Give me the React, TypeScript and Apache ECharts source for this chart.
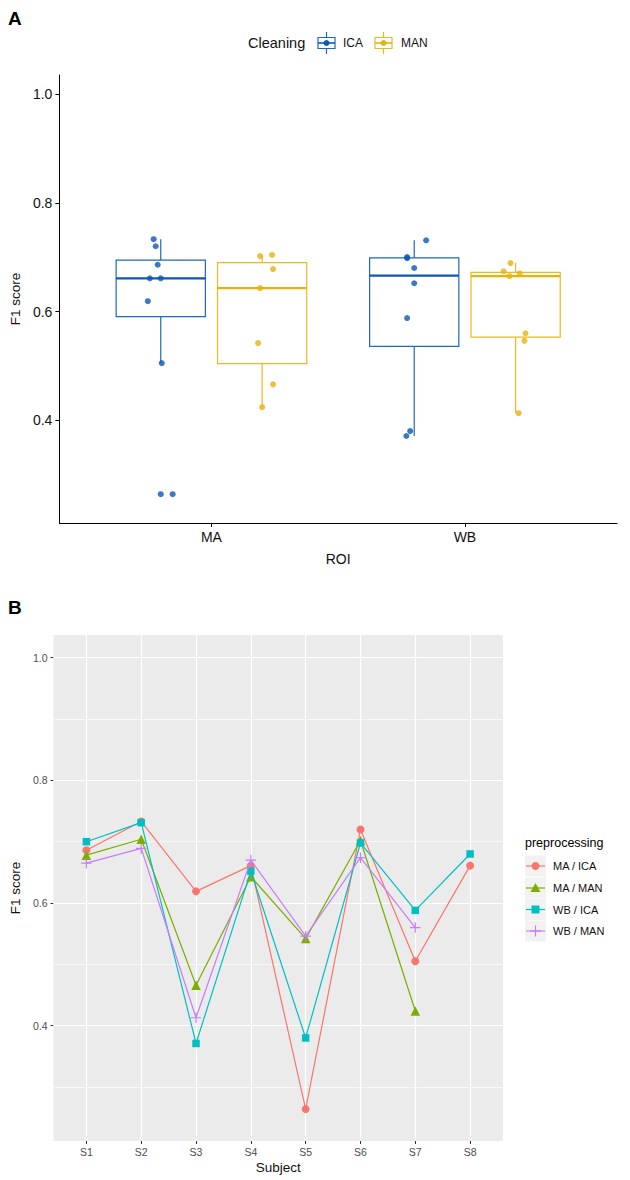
import React, { useEffect, useRef } from "react";
import * as echarts from "echarts";

// ---------- data ----------
const subjects = ["S1", "S2", "S3", "S4", "S5", "S6", "S7", "S8"];
const groups = ["MA / ICA", "MA / MAN", "WB / ICA", "WB / MAN"];
const rois = ["MA", "WB"];
const cleanings = ["ICA", "MAN"];
const yTicks = [0.4, 0.6, 0.8, 1.0];
const yMinor = [0.3, 0.5, 0.7, 0.9];

const maIca: (number | null)[] = [0.686, 0.733, 0.619, 0.661, 0.264, 0.72, 0.505, 0.661];
const maMan: (number | null)[] = [0.678, 0.704, 0.466, 0.643, 0.542, 0.702, 0.424, null];
const wbIca: (number | null)[] = [0.7, 0.731, 0.371, 0.652, 0.38, 0.698, 0.588, 0.68];
const wbMan: (number | null)[] = [0.665, 0.689, 0.413, 0.67, 0.546, 0.674, 0.56, null];

// horizontal jitter of the points in panel A (axis units)
const jitMaIca = [-0.012, -0.028, -0.051, -0.043, 0.047, -0.02, 0.004, 0.0];
const jitMaMan = [0.043, 0.039, 0.043, -0.008, -0.016, -0.008, 0.0, 0];
const jitWbIca = [-0.028, 0.047, -0.031, 0.0, -0.016, -0.028, -0.028, 0.0];
const jitWbMan = [-0.024, -0.02, 0.012, 0.016, 0.035, -0.047, 0.039, 0];

// ---------- helpers ----------
const FONT = "'Liberation Sans', Arial, Helvetica, sans-serif";
const BLUE_LINE = "#2167BA";
const BLUE_PT = "#0B58B6";
const YEL_LINE = "#EBB920";
const YEL_PT = "#E8B20C";
const ggCols = ["#F8766D", "#7CAE00", "#00BFC4", "#C77CFF"];
const PLUS = "path://M4.45,0H5.55V4.45H10V5.55H5.55V10H4.45V5.55H0V4.45H4.45Z";

function quantile(s: number[], p: number) {
  const h = (s.length - 1) * p;
  const lo = Math.floor(h);
  const hi = Math.ceil(h);
  return s[lo] + (h - lo) * (s[hi] - s[lo]);
}
function boxStats(vals: (number | null)[]) {
  const s = (vals.filter((v) => v != null) as number[]).slice().sort((a, b) => a - b);
  const q1 = quantile(s, 0.25);
  const med = quantile(s, 0.5);
  const q3 = quantile(s, 0.75);
  const iqr = q3 - q1;
  const lo = q1 - 1.5 * iqr;
  const hi = q3 + 1.5 * iqr;
  const inside = s.filter((v) => v >= lo && v <= hi);
  return {
    min: inside[0],
    q1,
    med,
    q3,
    max: inside[inside.length - 1],
    outliers: s.filter((v) => v < lo || v > hi),
  };
}

const dataA: Record<string, (number | null)[][]> = {
  ICA: [maIca, wbIca],
  MAN: [maMan, wbMan],
};
const jitA: Record<string, number[][]> = {
  ICA: [jitMaIca, jitWbIca],
  MAN: [jitMaMan, jitWbMan],
};
const seriesB = [maIca, maMan, wbIca, wbMan];
const symbolsB = ["circle", "triangle", "rect", PLUS];
const sizesB = [8, 9.5, 7.5, 10.5];

function buildOption() {
  const series: any[] = [];
  const graphics: any[] = [];

  // ---------- Panel A ----------
  cleanings.forEach((cl, ci) => {
    const lineCol = ci === 0 ? BLUE_LINE : YEL_LINE;
    const ptCol = ci === 0 ? BLUE_PT : YEL_PT;
    const off = ci === 0 ? -0.2 : 0.2;
    const boxes: number[][] = [];
    const outl: number[][] = [];
    const pts: number[][] = [];
    rois.forEach((_, ri) => {
      const vals = dataA[cl][ri];
      const st = boxStats(vals);
      const xc = ri + 1 + off;
      boxes.push([xc, st.min, st.q1, st.med, st.q3, st.max]);
      st.outliers.forEach((o) => outl.push([xc, o]));
      vals.forEach((v, k) => {
        if (v != null) pts.push([xc + jitA[cl][ri][k], v]);
      });
    });
    series.push({
      type: "custom",
      name: cl,
      xAxisIndex: 0,
      yAxisIndex: 0,
      data: boxes,
      z: 2,
      renderItem: (params: any, api: any) => {
        const x = api.value(0);
        const half = 0.176;
        const pMin = api.coord([x, api.value(1)]);
        const pQ1 = api.coord([x, api.value(2)]);
        const pMed = api.coord([x, api.value(3)]);
        const pQ3 = api.coord([x, api.value(4)]);
        const pMax = api.coord([x, api.value(5)]);
        const l = api.coord([x - half, api.value(3)])[0];
        const r = api.coord([x + half, api.value(3)])[0];
        return {
          type: "group",
          children: [
            { type: "line", shape: { x1: pMax[0], y1: pMax[1], x2: pQ3[0], y2: pQ3[1] }, style: { stroke: lineCol, lineWidth: 1.2 } },
            { type: "line", shape: { x1: pQ1[0], y1: pQ1[1], x2: pMin[0], y2: pMin[1] }, style: { stroke: lineCol, lineWidth: 1.2 } },
            { type: "rect", shape: { x: l, y: pQ3[1], width: r - l, height: pQ1[1] - pQ3[1] }, style: { fill: "#ffffff", stroke: lineCol, lineWidth: 1.2 } },
            { type: "line", shape: { x1: l, y1: pMed[1], x2: r, y2: pMed[1] }, style: { stroke: ptCol, lineWidth: 2.2 } },
          ],
        };
      },
    });
    series.push({
      type: "scatter",
      name: cl + " outliers",
      xAxisIndex: 0,
      yAxisIndex: 0,
      data: outl,
      symbolSize: 6,
      itemStyle: { color: ptCol },
      z: 3,
    });
    series.push({
      type: "scatter",
      name: cl + " points",
      xAxisIndex: 0,
      yAxisIndex: 0,
      data: pts,
      symbolSize: 6,
      itemStyle: { color: ptCol },
      z: 4,
    });
  });

  // ---------- Panel B gridlines ----------
  series.push({
    type: "line",
    xAxisIndex: 1,
    yAxisIndex: 1,
    data: [],
    silent: true,
    z: 1,
    markLine: {
      silent: true,
      symbol: ["none", "none"],
      label: { show: false },
      lineStyle: { color: "#ffffff", type: "solid", width: 0.6 },
      data: yMinor.map((v) => ({ yAxis: v })),
    },
  });
  series.push({
    type: "line",
    xAxisIndex: 1,
    yAxisIndex: 1,
    data: [],
    silent: true,
    z: 1,
    markLine: {
      silent: true,
      symbol: ["none", "none"],
      label: { show: false },
      lineStyle: { color: "#ffffff", type: "solid", width: 1.2 },
      data: [
        ...yTicks.map((v) => ({ yAxis: v })),
        ...subjects.map((_, i) => ({ xAxis: i + 1 })),
      ],
    },
  });

  // ---------- Panel B lines ----------
  seriesB.forEach((vals, gi) => {
    const d: number[][] = [];
    vals.forEach((v, i) => {
      if (v != null) d.push([i + 1, v]);
    });
    series.push({
      type: "line",
      name: groups[gi],
      xAxisIndex: 1,
      yAxisIndex: 1,
      data: d,
      symbol: symbolsB[gi],
      symbolSize: sizesB[gi],
      showSymbol: true,
      lineStyle: { color: ggCols[gi], width: 1.2 },
      itemStyle: { color: ggCols[gi] },
      z: 5 + gi,
    });
  });

  // ---------- panel letters ----------
  graphics.push({ type: "text", left: 8, top: 9, style: { text: "A", font: `bold 19px ${FONT}`, fill: "#000" } });
  graphics.push({ type: "text", left: 8, top: 598, style: { text: "B", font: `bold 19px ${FONT}`, fill: "#000" } });

  // ---------- legend A ----------
  graphics.push({ type: "text", x: 248, y: 43, style: { text: "Cleaning", font: `14.5px ${FONT}`, fill: "#111", verticalAlign: "middle" } });
  const legA = [
    { x: 318, label: "ICA", lx: 343, line: BLUE_LINE, pt: BLUE_PT },
    { x: 375, label: "MAN", lx: 401, line: YEL_LINE, pt: YEL_PT },
  ];
  legA.forEach((it) => {
    const cx = it.x + 8.5;
    graphics.push({ type: "line", shape: { x1: cx, y1: 32, x2: cx, y2: 54 }, style: { stroke: it.line, lineWidth: 1.2 } });
    graphics.push({ type: "rect", shape: { x: it.x, y: 37.5, width: 17, height: 11 }, style: { fill: "#fff", stroke: it.line, lineWidth: 1.2 } });
    graphics.push({ type: "line", shape: { x1: it.x, y1: 43, x2: it.x + 17, y2: 43 }, style: { stroke: it.pt, lineWidth: 1.6 } });
    graphics.push({ type: "circle", shape: { cx, cy: 43, r: 3 }, style: { fill: it.pt } });
    graphics.push({ type: "text", x: it.lx, y: 43, style: { text: it.label, font: `12px ${FONT}`, fill: "#111", verticalAlign: "middle" } });
  });

  // ---------- legend B ----------
  graphics.push({ type: "text", x: 525, y: 843, style: { text: "preprocessing", font: `12.5px ${FONT}`, fill: "#000", verticalAlign: "middle" } });
  const rowsY = [866, 888, 909.5, 931];
  groups.forEach((g, gi) => {
    const cy = rowsY[gi];
    const col = ggCols[gi];
    graphics.push({ type: "rect", shape: { x: 525, y: cy - 10.5, width: 21, height: 21 }, style: { fill: "#F2F2F2" } });
    graphics.push({ type: "line", shape: { x1: 526, y1: cy, x2: 545, y2: cy }, style: { stroke: col, lineWidth: 1.2 } });
    const cx = 535.5;
    if (gi === 0) graphics.push({ type: "circle", shape: { cx, cy, r: 4 }, style: { fill: col } });
    if (gi === 1)
      graphics.push({ type: "polygon", shape: { points: [[cx, cy - 5], [cx + 5, cy + 4], [cx - 5, cy + 4]] }, style: { fill: col } });
    if (gi === 2) graphics.push({ type: "rect", shape: { x: cx - 4, y: cy - 4, width: 8, height: 8 }, style: { fill: col } });
    if (gi === 3) {
      graphics.push({ type: "line", shape: { x1: cx - 5.5, y1: cy, x2: cx + 5.5, y2: cy }, style: { stroke: col, lineWidth: 1.2 } });
      graphics.push({ type: "line", shape: { x1: cx, y1: cy - 5.5, x2: cx, y2: cy + 5.5 }, style: { stroke: col, lineWidth: 1.2 } });
    }
    graphics.push({ type: "text", x: 553, y: cy, style: { text: g, font: `11px ${FONT}`, fill: "#111", verticalAlign: "middle" } });
  });

  return {
    animation: false,
    backgroundColor: "#ffffff",
    textStyle: { fontFamily: FONT },
    grid: [
      { left: 57, top: 75, width: 560, height: 448, containLabel: false },
      { left: 49, top: 635, width: 454, height: 506, containLabel: false, show: true, backgroundColor: "#EBEBEB", borderWidth: 0 },
    ],
    xAxis: [
      {
        type: "value",
        gridIndex: 0,
        min: 0.4,
        max: 2.6,
        splitLine: { show: false },
        axisLine: { show: true, onZero: false, lineStyle: { color: "#000", width: 1 } },
        axisTick: { show: true, length: 4, customValues: [1, 2], lineStyle: { color: "#000" } },
        axisLabel: {
          customValues: [1, 2],
          formatter: (v: number) => rois[Math.round(v) - 1],
          fontSize: 14,
          color: "#111",
          margin: 7,
        },
        name: "ROI",
        nameLocation: "middle",
        nameGap: 29,
        nameTextStyle: { fontSize: 14, color: "#111" },
      },
      {
        type: "value",
        gridIndex: 1,
        min: 0.4,
        max: 8.6,
        splitLine: { show: false },
        axisLine: { show: false, onZero: false },
        axisTick: { show: true, length: 3, customValues: [1, 2, 3, 4, 5, 6, 7, 8], lineStyle: { color: "#333" } },
        axisLabel: {
          customValues: [1, 2, 3, 4, 5, 6, 7, 8],
          formatter: (v: number) => subjects[Math.round(v) - 1],
          fontSize: 10.5,
          color: "#4D4D4D",
          margin: 5,
        },
        name: "Subject",
        nameLocation: "middle",
        nameGap: 19,
        nameTextStyle: { fontSize: 13.5, color: "#111" },
      },
    ],
    yAxis: [
      {
        type: "value",
        gridIndex: 0,
        min: 0.211,
        max: 1.035,
        splitLine: { show: false },
        axisLine: { show: true, onZero: false, lineStyle: { color: "#000", width: 1 } },
        axisTick: { show: true, length: 4, customValues: yTicks, lineStyle: { color: "#000" } },
        axisLabel: {
          customValues: yTicks,
          formatter: (v: number) => v.toFixed(1),
          fontSize: 14,
          color: "#111",
          margin: 7,
        },
        name: "F1 score",
        nameLocation: "middle",
        nameGap: 33,
        nameTextStyle: { fontSize: 13.5, color: "#111" },
      },
      {
        type: "value",
        gridIndex: 1,
        min: 0.212,
        max: 1.037,
        splitLine: { show: false },
        axisLine: { show: false, onZero: false },
        axisTick: { show: true, length: 3, customValues: yTicks, lineStyle: { color: "#333" } },
        axisLabel: {
          customValues: yTicks,
          formatter: (v: number) => v.toFixed(1),
          fontSize: 10.5,
          color: "#4D4D4D",
          margin: 6,
        },
        name: "F1 score",
        nameLocation: "middle",
        nameGap: 27,
        nameTextStyle: { fontSize: 13.5, color: "#111" },
      },
    ],
    series,
    graphic: graphics,
  };
}

export default function App() {
  const ref = useRef<HTMLDivElement>(null);
  useEffect(() => {
    if (!ref.current) return;
    const chart = echarts.init(ref.current, null, { renderer: "svg" });
    chart.setOption(buildOption() as any);
    return () => chart.dispose();
  }, []);
  return (
    <div
      ref={ref}
      style={{ position: "absolute", left: 0, top: 0, width: 630, height: 1180, background: "#fff" }}
    />
  );
}
